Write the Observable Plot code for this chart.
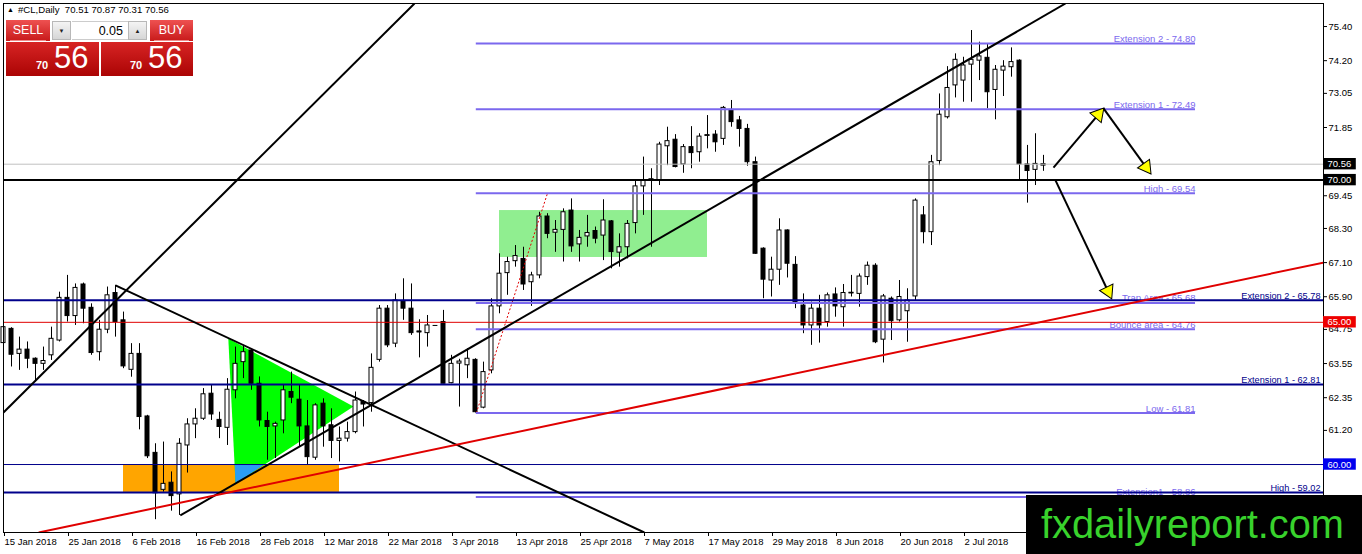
<!DOCTYPE html>
<html>
<head>
<meta charset="utf-8">
<script src="https://cdn.jsdelivr.net/npm/d3@7"></script>
<script src="https://cdn.jsdelivr.net/npm/@observablehq/plot@0.6"></script>
<style>
  body { margin: 0; background: #fff; font-family: "Liberation Sans", Arial, sans-serif; }
  #wrap { position: relative; width: 1362px; height: 554px; overflow: hidden; background: #fff; }
  #chart { position: absolute; left: 0; top: 0; }
  .title { position: absolute; left: 7px; top: 4px; font-size: 9.6px; color: #000; white-space: pre; }
  .title .tri { font-size: 7px; vertical-align: 1px; margin-right: 4px; }
  .btn { position: absolute; top: 20px; height: 21px; background: linear-gradient(#ee5151, #c81a1a);
         color: #fff; font-size: 12.5px; text-align: center; line-height: 21px; }
  .btn::after { content: ""; position: absolute; left: 4px; right: 4px; bottom: 0; height: 1px; background: #f08a8a; }
  .spin { position: absolute; top: 21px; height: 19px; width: 19px; background: linear-gradient(#f4f4f4, #d6d6d6);
          border: 1px solid #b8b8b8; box-sizing: border-box; font-size: 6px; text-align: center; line-height: 18px; color: #222; }
  .lot { position: absolute; left: 72px; top: 21px; width: 56px; height: 19px; background: #fff; border-top: 1px solid #ccc;
         border-bottom: 1px solid #ccc; box-sizing: border-box; font-size: 12.5px; text-align: right; padding-right: 5px; line-height: 18px; }
  .big { position: absolute; top: 42px; height: 34px; background: linear-gradient(#d72424, #ab0404); color: #fff; }
  .big .s { position: absolute; bottom: 5px; font-size: 11px; font-weight: bold; }
  .big .l { position: absolute; top: 0px; font-size: 31px; line-height: 32px; }
  .mark { position: absolute; left: 1026px; top: 495px; width: 336px; height: 59px; background: #000;
          color: #38d22c; font-size: 39.8px; line-height: 59px; padding-left: 15px; box-sizing: border-box; }
</style>
</head>
<body>
<div id="wrap">
  <div id="chart"></div>
  <div class="title"><span class="tri">&#9650;</span>#CL,Daily  70.51 70.87 70.31 70.56</div>
  <div class="btn" style="left:6px;width:44px;">SELL</div>
  <div class="spin" style="left:52px;">&#9660;</div>
  <div class="lot">0.05</div>
  <div class="spin" style="left:128px;">&#9650;</div>
  <div class="btn" style="left:150px;width:43px;">BUY</div>
  <div class="big" style="left:6px;width:93px;"><span class="s" style="left:30px;">70</span><span class="l" style="left:48px;">56</span></div>
  <div class="big" style="left:101px;width:92px;"><span class="s" style="left:29px;">70</span><span class="l" style="left:47px;">56</span></div>
  <div class="mark">fxdailyreport.com</div>
</div>
<script>
// bar index 0 = 15 Jan 2018, one bar every weekday
const dateTicks = [0, 8, 16, 24, 32, 40, 48, 56, 64, 72, 80, 88, 96, 104, 112, 120];
const dateLabels = ["15 Jan 2018", "25 Jan 2018", "6 Feb 2018", "16 Feb 2018", "28 Feb 2018", "12 Mar 2018",
  "22 Mar 2018", "3 Apr 2018", "13 Apr 2018", "25 Apr 2018", "7 May 2018", "17 May 2018", "29 May 2018",
  "8 Jun 2018", "20 Jun 2018", "2 Jul 2018"];

const opens = [64.27,64.77,63.89,64.04,63.72,63.54,63.84,64.36,65.86,65.22,66.33,65.51,63.95,64.74,66.03,65.07,63.33,63.89,61.69,60.41,
  59.11,59.36,58.95,60.67,61.41,61.61,62.49,61.57,61.29,62.61,63.60,64.01,62.84,61.53,61.34,61.55,62.55,62.28,61.34,60.24,
  62.14,61.38,60.83,60.91,61.14,62.20,62.16,63.68,65.48,64.25,65.75,65.48,64.68,64.62,64.89,65.01,62.86,63.55,63.49,63.68,
  62.00,63.31,65.56,66.73,67.15,67.23,66.41,66.65,68.72,68.15,68.25,68.93,67.74,68.02,68.21,68.05,68.55,67.45,67.64,68.49,
  69.78,69.99,69.99,71.19,71.42,70.55,71.16,70.98,71.56,71.60,71.45,72.47,72.10,71.80,70.63,67.59,66.47,66.85,68.23,67.02,
  65.59,64.89,65.48,65.01,65.98,65.53,66.02,66.00,66.59,66.99,64.39,65.83,65.07,65.39,65.91,68.76,68.17,70.67,72.21,73.33,
  73.50,74.06,74.20,74.30,73.17,73.85,73.97,74.20,70.55,70.36,70.51];
const highs = [64.89,64.81,64.48,64.31,63.75,64.13,64.83,66.06,66.65,66.35,66.38,65.65,65.07,66.24,66.30,65.36,64.25,64.25,61.73,60.73,
  60.79,59.74,60.91,61.61,61.96,62.67,62.78,61.84,63.02,64.13,64.19,64.07,63.08,61.84,61.49,62.78,63.25,62.78,62.25,62.14,
  62.31,61.96,61.32,61.49,62.55,62.25,63.89,65.59,65.59,66.00,66.53,66.35,65.09,65.24,64.89,65.42,63.84,63.70,64.07,63.72,
  63.60,65.83,67.41,67.29,67.70,67.64,66.76,68.87,68.82,68.58,68.99,69.34,68.23,68.76,68.35,69.31,68.58,68.11,68.58,69.99,
  70.81,70.40,71.33,71.86,71.60,71.25,71.88,71.63,72.27,71.74,72.59,72.80,72.24,71.96,70.81,67.62,67.29,68.64,68.25,67.31,
  66.00,65.71,65.95,66.03,66.21,66.33,66.65,66.70,67.12,67.06,65.98,65.89,66.47,66.18,69.34,69.07,70.87,73.03,73.99,74.44,
  74.32,75.26,74.85,74.79,74.03,74.20,74.65,74.23,71.22,71.63,70.87];
const lows = [64.07,63.43,63.31,63.37,62.90,63.31,63.66,64.31,65.01,64.89,64.95,63.84,63.64,64.60,64.48,63.37,63.07,61.22,60.21,58.06,
  59.03,58.36,58.21,59.70,60.91,61.55,61.55,60.91,60.67,62.31,63.02,62.61,61.32,60.15,60.21,61.08,62.14,60.61,59.97,60.15,
  60.61,60.21,60.09,60.79,61.08,61.32,61.84,63.60,64.11,64.11,65.07,64.54,63.75,64.13,64.89,62.84,62.84,62.02,63.02,61.81,
  61.96,63.19,65.30,65.95,66.94,66.12,65.56,66.53,67.94,67.46,67.12,67.46,67.12,67.64,67.76,67.17,66.88,66.94,67.23,68.11,
  68.76,67.64,69.81,70.51,70.43,70.24,70.40,70.63,71.10,70.98,71.22,71.86,71.16,70.49,67.39,65.83,65.89,66.30,66.56,65.48,
  64.60,64.19,64.27,64.83,65.18,64.83,65.89,65.53,66.30,64.25,63.57,64.36,65.01,64.30,65.77,67.76,67.70,70.51,72.15,72.89,
  72.74,72.74,73.50,72.51,72.12,72.94,73.62,69.99,69.19,69.81,70.31];
const closes = [64.83,63.86,64.04,63.72,63.54,63.64,64.42,65.86,65.22,66.21,65.48,63.92,64.74,65.95,65.01,63.45,63.89,61.67,60.29,58.99,
  59.32,58.89,60.73,61.41,61.61,62.47,61.76,61.32,62.63,63.54,63.95,62.84,61.55,61.32,61.43,62.61,62.35,61.34,60.26,62.08,
  61.34,60.83,60.91,61.14,62.25,62.11,63.40,65.48,64.19,65.77,65.48,64.62,64.66,64.89,64.89,62.84,63.54,63.62,63.72,61.84,
  63.25,65.56,66.71,67.12,67.33,66.33,66.65,68.72,68.11,68.25,68.87,67.67,67.97,68.14,67.94,68.58,67.47,67.64,68.46,69.78,
  69.99,70.03,71.25,71.37,70.46,71.16,70.95,71.53,71.58,71.33,72.54,72.04,71.80,70.63,67.41,66.50,66.85,68.23,67.06,65.71,
  64.89,65.48,64.89,65.95,65.56,66.03,66.04,66.61,66.99,64.30,65.91,65.04,65.89,65.77,69.28,68.17,70.63,72.30,73.24,74.23,
  74.03,74.23,74.35,73.09,73.88,73.99,74.15,70.55,70.32,70.57,70.56];

const yTicks = [75.40, 74.20, 73.05, 71.85, 70.65, 69.45, 68.30, 67.10, 65.90, 64.75, 63.55, 62.35, 61.20, 60.00, 58.80];

// fibo expansion object
const fiboLabels = ["Extension 2 - 74.80", "Extension 1 - 72.49", "High - 69.54", "Trap Area - 65.68",
  "Bounce area - 64.76", "Low - 61.81", "Extension1 - 58.86"];
const fiboValues = [74.80, 72.49, 69.54, 65.68, 64.76, 61.81, 58.86];
const fiboFrom = 59.1, fiboTo = 149;

// full width support lines
const supportLabels = ["Extension 2 - 65.78", "Extension 1 - 62.81", "High - 59.02"];
const supportValues = [65.78, 62.81, 59.02];

const bidPrice = 70.56, roundLevel = 70.00, redLevel = 65.00, blueLevel = 60.00;
const tagValues = [70.56, 70.00, 65.00, 60.00];

// trend lines: [barFrom, priceFrom, barTo, priceTo]
const blackLines = [
  [0, 61.83, 51.375, 76.21],
  [14, 66.30, 80.1, 57.61],
  [22.1, 58.21, 132.75, 76.21]
];
const redLine = [4.4, 57.61, 165, 67.10];
const fiboBase = [59.1, 61.81, 68, 69.54];

// shaded zones: [barFrom, barTo, priceLow, priceHigh]
const orangeZone = [15, 42, 59.02, 60.00];
const greenZone = [62, 88, 67.28, 68.93];
const pennant = [[28.1, 64.43], [43.75, 62.04], [29, 59.33]];
const pennantLow = [[28.9, 60.00], [32.6, 60.00], [29, 59.33]];

// projection arrows: [barFrom, priceFrom, barTo, priceTo]
const arrows = [
  [131.25, 70.44, 137.5, 72.52],
  [137.5, 72.52, 143.4, 70.23],
  [131.5, 69.99, 138.5, 65.84]
];

const W = 1362, H = 554, mL = 3, mR = 39, mT = 3, mB = 22;
const xDom = [0, 165], yDom = [57.61, 76.21];
const kx = (W - mL - mR) / (xDom[1] - xDom[0]);
const ky = (H - mT - mB) / (yDom[1] - yDom[0]);

const candles = opens.map((o, i) => ({i, o, h: highs[i], l: lows[i], c: closes[i]}));
const fibo = fiboValues.map((v, i) => ({v, label: fiboLabels[i]}));
const support = supportValues.map((v, i) => ({v, label: supportLabels[i]}));
const toLink = a => ({x1: a[0], y1: a[1], x2: a[2], y2: a[3]});

const heads = arrows.map(a => {
  const dx = (a[2] - a[0]) * kx, dy = -(a[3] - a[1]) * ky;
  const len = Math.hypot(dx, dy), back = 8;
  return {x: a[2] - back * dx / len / kx, y: a[3] + back * dy / len / ky,
          x0: a[0], y0: a[1], rotate: Math.atan2(dx, -dy) * 180 / Math.PI};
});

const navy = "#00008b", fiboColor = "#7b68ee";

const chart = Plot.plot({
  width: W, height: H,
  marginLeft: mL, marginRight: mR, marginTop: mT, marginBottom: mB,
  x: {type: "linear", domain: xDom, axis: null},
  y: {type: "linear", domain: yDom, axis: null},
  style: {fontFamily: "Liberation Sans, Arial, sans-serif", fontSize: "9.5px", background: "white", color: "black"},
  marks: [
    // zones
    Plot.rect([orangeZone], {x1: d => d[0], x2: d => d[1], y1: d => d[2], y2: d => d[3], fill: "#ffa500"}),
    Plot.rect([greenZone], {x1: d => d[0], x2: d => d[1], y1: d => d[2], y2: d => d[3], fill: "#90ee90"}),
    Plot.line(pennant, {x: d => d[0], y: d => d[1], fill: "#00ff00", stroke: "none", curve: "linear-closed"}),
    Plot.line(pennantLow, {x: d => d[0], y: d => d[1], fill: "#2a9df4", stroke: "none", curve: "linear-closed"}),

    // candles
    Plot.ruleX(candles, {x: "i", y1: "l", y2: "h", stroke: "black", strokeWidth: 1}),
    Plot.rect(candles, {
      x1: d => d.i - 0.25, x2: d => d.i + 0.25,
      y1: d => Math.min(d.o, d.c), y2: d => Math.max(d.o, d.c),
      fill: d => d.c >= d.o ? "white" : "black", stroke: "black", strokeWidth: 1
    }),
    Plot.ruleY(candles.filter(d => Math.abs(d.o - d.c) < 0.05), {y: "c", x1: d => d.i - 0.3, x2: d => d.i + 0.3, stroke: "black"}),

    // fibo expansion
    Plot.link([fiboBase].map(toLink), {x1: "x1", y1: "y1", x2: "x2", y2: "y2", stroke: "#e00000", strokeDasharray: "2,2", strokeWidth: 1}),
    Plot.text(fibo, {x: () => fiboTo, y: "v", text: "label", textAnchor: "end", lineAnchor: "bottom", dy: -1.5, fill: fiboColor, fontSize: 9.5}),
    Plot.ruleY(fibo, {y: "v", x1: () => fiboFrom, x2: () => fiboTo, stroke: fiboColor, strokeWidth: 2}),

    // horizontal levels
    Plot.ruleY([bidPrice], {stroke: "#c0c0c0", strokeWidth: 1}),
    Plot.ruleY([roundLevel], {stroke: "black", strokeWidth: 2}),
    Plot.ruleY([redLevel], {stroke: "#e00000", strokeWidth: 1}),
    Plot.ruleY([blueLevel], {stroke: navy, strokeWidth: 1}),
    Plot.ruleY(support, {y: "v", stroke: navy, strokeWidth: 2}),
    Plot.text(support, {y: "v", text: "label", frameAnchor: "right", textAnchor: "end", dx: -3, lineAnchor: "bottom", dy: -1.5, fill: navy, fontSize: 9.2}),

    // trend lines
    Plot.link(blackLines.map(toLink), {x1: "x1", y1: "y1", x2: "x2", y2: "y2", stroke: "black", strokeWidth: 2, clip: true}),
    Plot.link([redLine].map(toLink), {x1: "x1", y1: "y1", x2: "x2", y2: "y2", stroke: "#e00000", strokeWidth: 2, clip: true}),

    // projection arrows
    Plot.link(heads, {x1: "x0", y1: "y0", x2: "x", y2: "y", stroke: "black", strokeWidth: 2}),
    Plot.dot(heads, {x: "x", y: "y", rotate: "rotate", symbol: "triangle", r: 5.5, fill: "#ffff00", stroke: "black", strokeWidth: 1}),

    Plot.frame({stroke: "black"}),

    // price axis and tags
    Plot.axisY(yTicks, {anchor: "right", tickSize: 3, tickPadding: 2, tickFormat: d => d.toFixed(2), label: null, fontSize: 9.5}),
    Plot.rect(tagValues, {x1: () => 165, x2: () => 169.1, y1: d => d - 0.2, y2: d => d + 0.2,
      fill: d => d === redLevel ? "#ee0000" : d === blueLevel ? "#0000ee" : "black"}),
    Plot.text(tagValues, {y: d => d, frameAnchor: "right", dx: 4, textAnchor: "start", text: d => d.toFixed(2), fill: "white", fontSize: 9.5}),

    // date axis
    Plot.axisX(dateTicks, {tickSize: 4, tickPadding: 2, textAnchor: "start", dx: 1,
      tickFormat: d => dateLabels[dateTicks.indexOf(d)], label: null, fontSize: 9.5})
  ]
});

document.getElementById("chart").append(chart);
</script>
</body>
</html>
